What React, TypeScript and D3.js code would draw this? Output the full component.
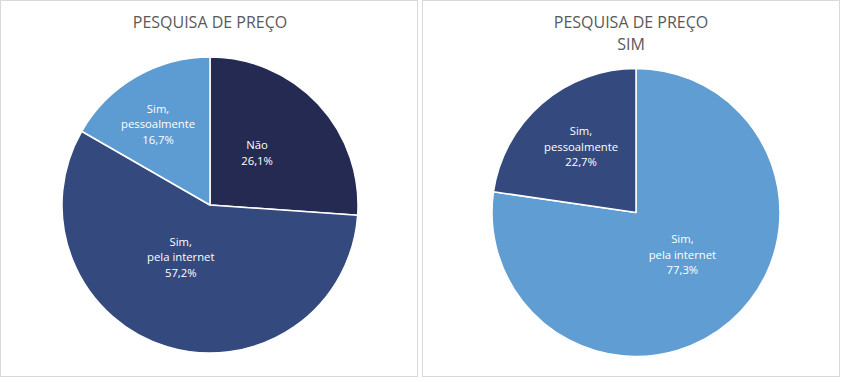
import React from "react";
import * as d3 from "d3";

const leftCategories = ["Não", "Sim, pela internet", "Sim, pessoalmente"];
const leftValues = [26.1, 57.2, 16.7];
const leftLabelLines = [["Não"], ["Sim,", "pela internet"], ["Sim,", "pessoalmente"]];
const leftColors = ["#252a52", "#344a7e", "#5d9bd3"];
// label placement: [angle degrees clockwise from top, fraction of radius]
const leftLabelPos: [number, number][] = [[41.5, 0.48], [209.6, 0.4], [327.6, 0.655]];

const rightCategories = ["Sim, pela internet", "Sim, pessoalmente"];
const rightValues = [77.3, 22.7];
const rightLabelLines = [["Sim,", "pela internet"], ["Sim,", "pessoalmente"]];
const rightColors = ["#5f9dd3", "#344a7e"];
const rightLabelPos: [number, number][] = [[131.5, 0.43], [320.5, 0.6]];

const fmt = (v: number) => v.toFixed(1).replace(".", ",") + "%";

type PieProps = {
  cx: number; cy: number; r: number;
  categories: string[]; values: number[]; lines: string[][];
  colors: string[]; labelPos: [number, number][];
};

function Pie({ cx, cy, r, categories, values, lines, colors, labelPos }: PieProps) {
  const pie = d3.pie<number>().sort(null).value((d) => d);
  const arcs = pie(values);
  const arc = d3.arc<d3.PieArcDatum<number>>().innerRadius(0).outerRadius(r);
  return (
    <g transform={`translate(${cx},${cy})`}>
      {arcs.map((a, i) => (
        <path key={categories[i]} d={arc(a) || ""} fill={colors[i]} stroke="#fff" strokeWidth={1.5} strokeLinejoin="round" />
      ))}
      {arcs.map((a, i) => {
        const [deg, frac] = labelPos[i];
        const ang = (deg * Math.PI) / 180;
        const x = Math.sin(ang) * r * frac;
        const y = -Math.cos(ang) * r * frac;
        const all = [...lines[i], fmt(values[i])];
        const lh = 15.5;
        const y0 = y - ((all.length - 1) * lh) / 2;
        return (
          <text key={"l" + i} x={x} y={y0} textAnchor="middle" fill="#fff" fontSize={11.3} fontFamily="'Open Sans', sans-serif" dominantBaseline="central">
            {all.map((t, j) => (
              <tspan key={j} x={x} y={y0 + j * lh}>{t}</tspan>
            ))}
          </text>
        );
      })}
    </g>
  );
}

export default function App() {
  const titleStyle = { fontFamily: "'Open Sans', sans-serif", fontSize: 16, fill: "#595959" } as const;
  return (
    <svg width={841} height={382} style={{ position: "absolute", left: 0, top: 0, background: "#fff" }}>
      <rect x={0.5} y={0.5} width={417} height={376} fill="#fff" stroke="#d9d9d9" />
      <rect x={422.5} y={0.5} width={417} height={376} fill="#fff" stroke="#d9d9d9" />
      <text x={210} y={22} textAnchor="middle" dominantBaseline="central" {...titleStyle}>PESQUISA DE PREÇO</text>
      <text x={631} y={22} textAnchor="middle" dominantBaseline="central" {...titleStyle}>PESQUISA DE PREÇO</text>
      <text x={631} y={44} textAnchor="middle" dominantBaseline="central" {...titleStyle}>SIM</text>
      <Pie cx={210} cy={205} r={148} categories={leftCategories} values={leftValues} lines={leftLabelLines} colors={leftColors} labelPos={leftLabelPos} />
      <Pie cx={636} cy={212.5} r={144} categories={rightCategories} values={rightValues} lines={rightLabelLines} colors={rightColors} labelPos={rightLabelPos} />
    </svg>
  );
}
